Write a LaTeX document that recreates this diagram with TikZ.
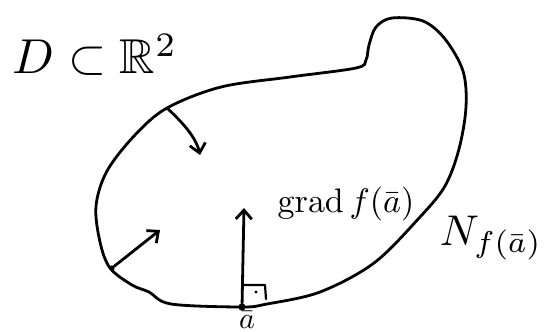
\documentclass[tikz,border=0pt]{standalone}
\usepackage{amsmath, amssymb}
\usetikzlibrary{arrows.meta}

\begin{document}
\begin{tikzpicture}[
    x=1pt, y=-1pt,
    >={Straight Barb[length=9pt, width=16pt]},
    pen/.style={line width=2.8pt, line cap=round, line join=round},
    dot/.style={circle, fill, inner sep=2.6pt},
    txt/.style={scale=#1, transform shape, inner sep=0pt}
  ]
  \useasboundingbox (0,0) rectangle (555,332);

  % ---- Domain ----
  \draw[pen] plot[smooth cycle, tension=0.55] coordinates {
    (242,307) (267,304) (320,292) (374,263) (420,217) (445,186)
    (459,149) (466,107) (463,71) (445,39) (423,21) (392,18)
    (376,27) (369,45) (366,60) (356,68) (290,77) (221,87)
    (167,108) (135,135) (107,171) (96,206) (100,242) (110,268)
    (132,285) (149,292) (171,304)};
  \node[txt=4.9] (dom) at (95,55) {$D\subset\mathbb{R}^2$};

  % Points on the boundary
  \node[dot] (a) at (242,307) {};
  \node[dot, inner sep=1.9pt] (q) at (112,268) {};
  \coordinate (p) at (167,108);
  \node[txt=3] (abar) at (247,320) {$\bar a$};

  % Normals
  \coordinate (pend) at (200,155);
  \coordinate (qend) at (160,230);
  \coordinate (aend) at (244,208);
  \draw[pen, ->] (p) .. controls (182,122) and (196,137) .. (pend);
  \draw[pen, ->] (q) -- (qend);
  \draw[pen, ->] (a) -- (aend);

  % Right angle
  \draw[pen, line width=2.2pt] (243,285) -- (265,285) -- (266,299);
  \node[dot, inner sep=1.1pt] (rdot) at (256,292) {};

  % Labels
  \node[txt=3.4] (grad) at (346,204) {$\operatorname{grad} f(\bar a)$};
  \node[txt=4.3] (nf) at (491,238) {$N_{f(\bar a)}$};
\end{tikzpicture}
\end{document}
